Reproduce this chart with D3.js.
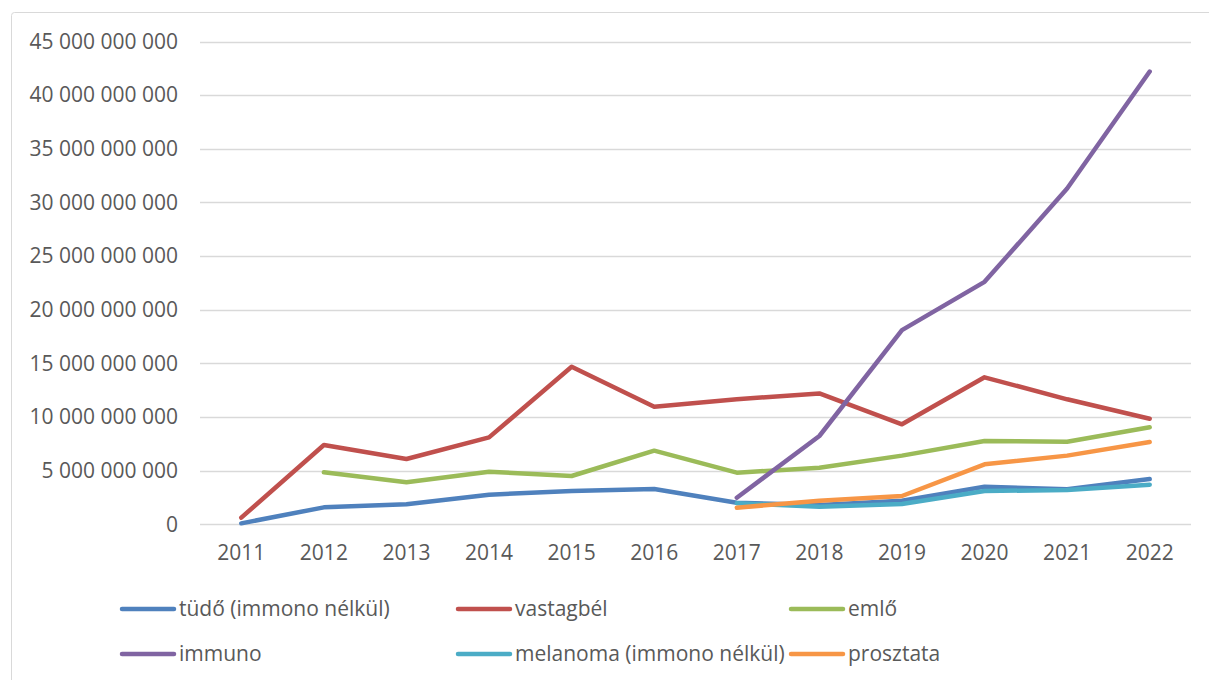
<!DOCTYPE html>
<html>
<head>
<meta charset="utf-8">
<script src="https://cdn.jsdelivr.net/npm/d3@7/dist/d3.min.js"></script>
<style>
  html, body { margin: 0; padding: 0; background: #fff; }
  svg { display: block; font-family: "Open Sans", sans-serif; }
</style>
</head>
<body>
<svg id="chart" width="1209" height="680"></svg>
<script>
const years = ["2011","2012","2013","2014","2015","2016","2017","2018","2019","2020","2021","2022"];
const yTicks = [0, 5e9, 10e9, 15e9, 20e9, 25e9, 30e9, 35e9, 40e9, 45e9];

const seriesNames = ["tüdő (immono nélkül)", "vastagbél", "emlő", "immuno", "melanoma (immono nélkül)", "prosztata"];
const seriesColors = ["#4f81bd", "#c0504d", "#9bbb59", "#8064a2", "#4bacc6", "#f79646"];

const tudo      = [0.09e9, 1.58e9, 1.86e9, 2.76e9, 3.10e9, 3.29e9, 2.01e9, 1.80e9, 2.20e9, 3.50e9, 3.26e9, 4.22e9];
const vastagbel = [0.62e9, 7.39e9, 6.09e9, 8.10e9, 14.69e9, 10.96e9, 11.65e9, 12.20e9, 9.32e9, 13.70e9, 11.65e9, 9.84e9];
const emlo      = [null, 4.85e9, 3.91e9, 4.90e9, 4.50e9, 6.86e9, 4.81e9, 5.28e9, 6.40e9, 7.76e9, 7.70e9, 9.04e9];
const immuno    = [null, null, null, null, null, null, 2.48e9, 8.23e9, 18.1e9, 22.6e9, 31.3e9, 42.2e9];
const melanoma  = [null, null, null, null, null, null, 1.96e9, 1.64e9, 1.89e9, 3.10e9, 3.20e9, 3.69e9];
const prosztata = [null, null, null, null, null, null, 1.55e9, 2.20e9, 2.64e9, 5.59e9, 6.40e9, 7.67e9];

const seriesValues = [tudo, vastagbel, emlo, immuno, melanoma, prosztata];

const svg = d3.select("#chart");
const FS = "21px";

// outer border
svg.append("rect")
  .attr("x", 11.5).attr("y", 12.5)
  .attr("width", 1220).attr("height", 700)
  .attr("rx", 3)
  .attr("fill", "#fff")
  .attr("stroke", "#d9d9d9")
  .attr("stroke-width", 1);

const x = d3.scaleBand().domain(years).range([200, 1191]);
const y = d3.scaleLinear().domain([0, 45e9]).range([524.3, 41.5]);

const fmt = v => d3.format(",")(v).replace(/,/g, " ");

// gridlines
svg.append("g")
  .selectAll("line")
  .data(yTicks)
  .join("line")
  .attr("x1", 200).attr("x2", 1191)
  .attr("y1", d => Math.round(y(d)) + 0.5)
  .attr("y2", d => Math.round(y(d)) + 0.5)
  .attr("stroke", "#d9d9d9")
  .attr("stroke-width", 1.5);

// y axis
const yAxis = d3.axisLeft(y).tickValues(yTicks).tickFormat(fmt).tickSize(0).tickPadding(0);
const gy = svg.append("g").attr("transform", "translate(178,0)").call(yAxis);
gy.select(".domain").remove();
gy.selectAll("text")
  .attr("fill", "#595959")
  .style("font-size", FS)
  .style("font-family", "'Open Sans', sans-serif");

// x axis
const xAxis = d3.axisBottom(x).tickSize(0).tickPadding(0);
const gx = svg.append("g").attr("transform", "translate(0,545)").call(xAxis);
gx.select(".domain").remove();
gx.selectAll("text")
  .attr("fill", "#595959")
  .attr("dy", "0.71em")
  .style("font-size", FS)
  .style("font-family", "'Open Sans', sans-serif");

// lines
const line = d3.line()
  .defined(d => d.v !== null)
  .x(d => x(d.year) + x.bandwidth() / 2)
  .y(d => y(d.v));

seriesValues.forEach((vals, i) => {
  const data = years.map((yr, j) => ({ year: yr, v: vals[j] }));
  svg.append("path")
    .datum(data)
    .attr("d", line)
    .attr("fill", "none")
    .attr("stroke", seriesColors[i])
    .attr("stroke-width", 4.5)
    .attr("stroke-linejoin", "round")
    .attr("stroke-linecap", "round");
});

// legend
const legendCols = [121, 457, 790];
const legendRows = [609, 654];
const lg = svg.append("g");
seriesNames.forEach((name, i) => {
  const cx = legendCols[i % 3];
  const cy = legendRows[Math.floor(i / 3)];
  lg.append("line")
    .attr("x1", cx + 1).attr("x2", cx + 53)
    .attr("y1", cy).attr("y2", cy)
    .attr("stroke", seriesColors[i])
    .attr("stroke-width", 4.5)
    .attr("stroke-linecap", "round");
  lg.append("text")
    .attr("x", cx + 58)
    .attr("y", cy)
    .attr("dy", "0.35em")
    .attr("fill", "#595959")
    .style("font-size", FS)
    .text(name);
});
</script>
</body>
</html>
